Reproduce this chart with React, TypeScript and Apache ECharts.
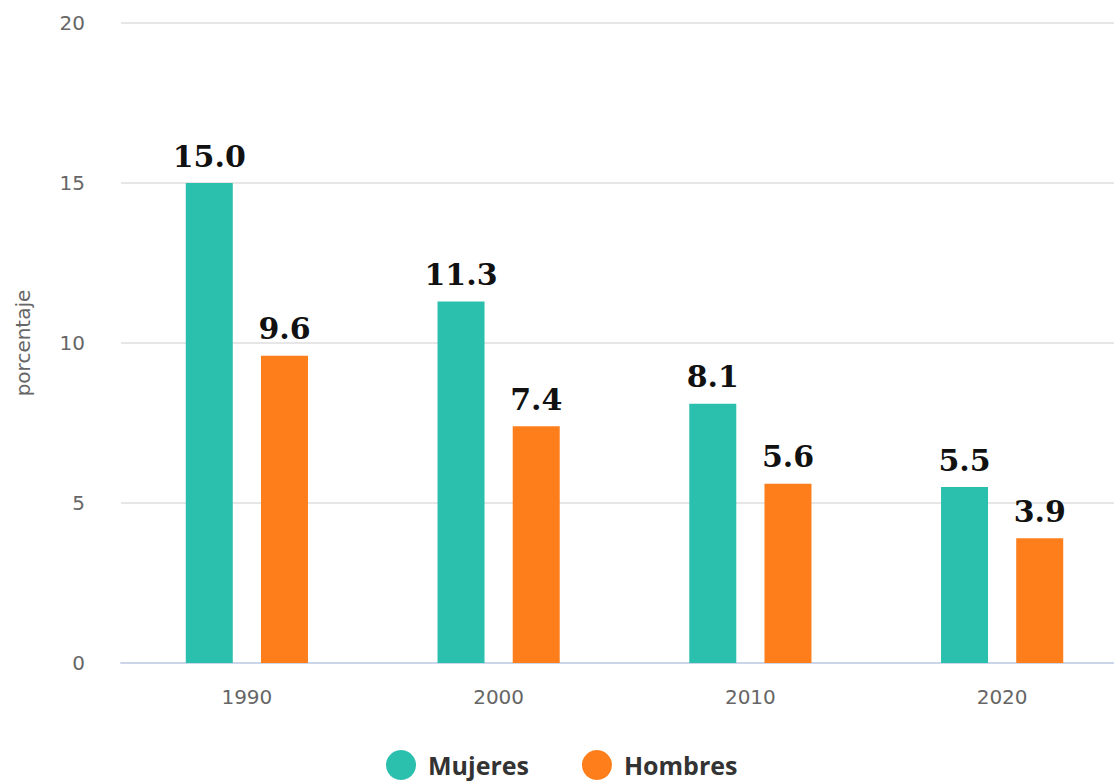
import React, { useEffect, useRef } from "react";
import * as echarts from "echarts";

const categories = ["1990", "2000", "2010", "2020"];
const mujeres = [15.0, 11.3, 8.1, 5.5];
const hombres = [9.6, 7.4, 5.6, 3.9];
const seriesNames = ["Mujeres", "Hombres"];
const yTicks = { min: 0, max: 20, interval: 5 };

export default function App() {
  const ref = useRef<HTMLDivElement>(null);
  useEffect(() => {
    document.body.style.margin = "0";
    document.body.style.overflow = "hidden";
    const chart = echarts.init(ref.current!, null, { renderer: "svg" });
    const labelStyle = {
      show: true,
      position: "top" as const,
      distance: 12,
      formatter: (p: any) => Number(p.value).toFixed(1),
      fontFamily: "DejaVu Serif",
      fontWeight: "bold" as const,
      fontSize: 30,
      color: "#111",
    };
    chart.setOption({
      animation: false,
      backgroundColor: "#fff",
      grid: { left: 121, right: 2, top: 23, bottom: 120 },
      legend: {
        left: 381,
        top: 745,
        icon: "circle",
        itemWidth: 30,
        itemHeight: 30,
        itemGap: 53,
        data: seriesNames,
        textStyle: {
          fontFamily: "Open Sans",
          fontWeight: "bold",
          fontSize: 25,
          lineHeight: 28,
          color: "#333",
          padding: [0, 0, 0, 7],
        },
      },
      xAxis: {
        type: "category",
        data: categories,
        axisLine: { lineStyle: { color: "#ccd6eb", width: 2 } },
        axisTick: { show: false },
        axisLabel: { margin: 24, fontSize: 20, color: "#666", fontFamily: "DejaVu Sans" },
      },
      yAxis: {
        type: "value",
        min: yTicks.min,
        max: yTicks.max,
        interval: yTicks.interval,
        name: "porcentaje",
        nameLocation: "middle",
        nameGap: 88,
        nameTextStyle: { fontSize: 20, color: "#666", fontFamily: "DejaVu Sans" },
        axisLabel: { margin: 36, fontSize: 20, color: "#666", fontFamily: "DejaVu Sans" },
        splitLine: { lineStyle: { color: "#e6e6e6", width: 2 } },
        axisLine: { show: false },
        axisTick: { show: false },
      },
      series: [
        {
          name: seriesNames[0],
          type: "bar",
          data: mujeres,
          barWidth: 47,
          barGap: "60%",
          itemStyle: { color: "#2bbfae" },
          label: labelStyle,
        },
        {
          name: seriesNames[1],
          type: "bar",
          data: hombres,
          barWidth: 47,
          itemStyle: { color: "#fd7e1b" },
          label: labelStyle,
        },
      ],
    });
    return () => chart.dispose();
  }, []);
  return <div ref={ref} style={{ width: 1130, height: 783 }} />;
}
